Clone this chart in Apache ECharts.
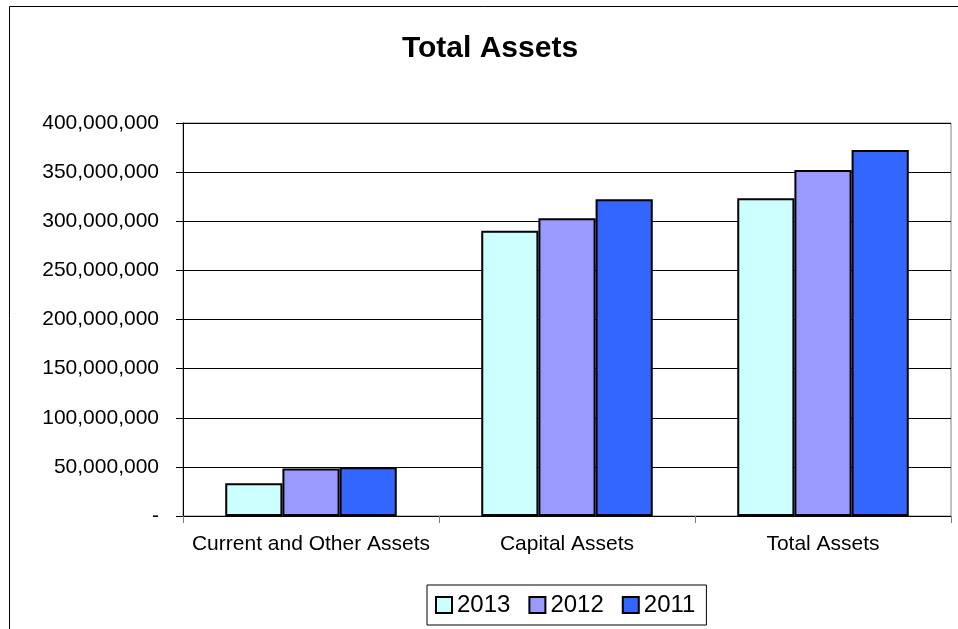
<!DOCTYPE html>
<html>
<head>
<meta charset="utf-8">
<script src="https://cdn.jsdelivr.net/npm/echarts@6/dist/echarts.min.js"></script>
<style>
  html, body { margin: 0; padding: 0; background: #fff; }
  #chart { width: 958px; height: 629px; }
</style>
</head>
<body>
<div id="chart"></div>
<script>
const categories = ["Current and Other Assets", "Capital Assets", "Total Assets"];
const years = ["2013", "2012", "2011"];
const values2013 = [33300000, 290400000, 323500000];
const values2012 = [48300000, 303000000, 352200000];
const values2011 = [49500000, 322300000, 372400000];
const yTicks = [0, 50000000, 100000000, 150000000, 200000000, 250000000, 300000000, 350000000, 400000000];

const colors = ["#CCFFFF", "#9999FF", "#3366FF"];
const font = "'Liberation Sans', Arial, sans-serif";

let myChart = echarts.init(document.getElementById("chart"));

const seriesData = [values2013, values2012, values2011];
const series = years.map((y, i) => ({
  name: y,
  type: "bar",
  data: seriesData[i],
  barGap: 0,
  barCategoryGap: "33%",
  itemStyle: { color: colors[i], borderColor: "#000", borderWidth: 2 }
}));

let option = {
  animation: false,
  textStyle: { fontFamily: font },
  graphic: [{
    type: "rect",
    shape: { x: 9.5, y: 6.5, width: 1000, height: 700 },
    style: { fill: null, stroke: "#000", lineWidth: 1 },
    silent: true
  }],
  title: {
    text: "Total Assets",
    left: 485,
    top: 29,
    textAlign: "center",
    textStyle: { fontSize: 30, fontWeight: "bold", color: "#000", fontFamily: font }
  },
  legend: {
    data: years,
    left: 427,
    top: 585,
    orient: "horizontal",
    padding: [8, 11, 8, 8],
    itemGap: 18,
    itemWidth: 16,
    itemHeight: 16,
    borderColor: "#000",
    borderWidth: 1,
    icon: "rect",
    itemStyle: { borderColor: "#000", borderWidth: 2 },
    textStyle: { fontSize: 24, color: "#000", fontFamily: font }
  },
  grid: {
    left: 183,
    right: 7,
    top: 123,
    bottom: 113,
    show: true,
    borderColor: "#808080",
    borderWidth: 1
  },
  xAxis: {
    type: "category",
    data: categories,
    axisLine: { lineStyle: { color: "#000", width: 1 } },
    axisTick: { show: true, length: 7, lineStyle: { color: "#808080" } },
    axisLabel: { interval: 0, fontSize: 21, color: "#000", margin: 18, fontFamily: font }
  },
  yAxis: [{
    type: "value",
    min: 0,
    max: 400000000,
    interval: 50000000,
    axisLine: { show: true, lineStyle: { color: "#000", width: 1 } },
    axisTick: { show: true, length: 7, lineStyle: { color: "#000" } },
    splitLine: { lineStyle: { color: "#000", width: 1 } },
    axisLabel: {
      fontSize: 21,
      color: "#000",
      margin: 24,
      fontFamily: font,
      formatter: v => v === 0 ? "-" : v.toLocaleString("en-US")
    }
  }, {
    type: "value",
    position: "left",
    min: 0,
    max: 400000000,
    interval: 50000000,
    axisLine: { show: false },
    axisTick: { show: true, inside: true, length: 6, lineStyle: { color: "#000" } },
    splitLine: { show: false },
    axisLabel: { show: false }
  }],
  series: series
};
myChart.setOption(option);
window.addEventListener("resize", () => myChart.resize(), false);
</script>
</body>
</html>
